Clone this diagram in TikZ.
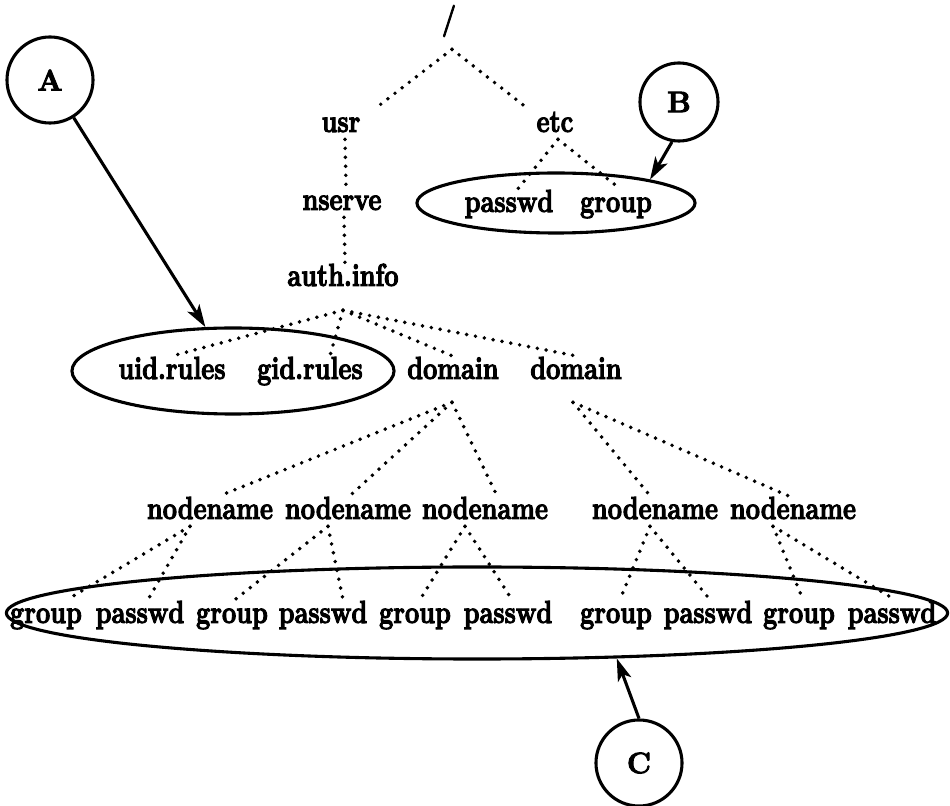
\documentclass[tikz,border=0pt]{standalone}
\usepackage{fontspec}
\usetikzlibrary{shapes.geometric,arrows.meta,calc}
\newfontfamily\treefont{lmroman12-bold}[Extension=.otf,FakeBold=3.5]
\tikzset{fname/.style={font=\treefont\fontsize{18}{20}\selectfont,inner sep=1pt,
        text height=12pt,text depth=3pt,yscale=1.25,transform shape},
    dots/.style={line width=2.8pt,line cap=round,dash pattern=on 0pt off 6.4pt},
    tag/.style={circle,draw,line width=2.2pt,minimum size=2.15cm,
        font=\treefont\fontsize{21}{23}\selectfont},
    grp/.style={ellipse,draw,line width=2.2pt,inner sep=0pt},
    pointer/.style={line width=2.2pt,-{Stealth[length=16pt,width=10pt,inset=4pt]}}}
\begin{document}
\begin{tikzpicture}[x=0.025cm,y=-0.025cm]
      \useasboundingbox (0,0) rectangle (950,806);
      % upper part of the tree
      \node[fname] (root) at (449,21) {/};
      \node[fname] (usr) at (341,124) {usr};
      \node[fname] (etc) at (555,124) {etc};
      \node[fname] (nserve) at (342,202) {nserve};
      \node[fname] (auth) at (343,278) {auth.info};
      \node[fname] (pw0) at (509,204) {passwd};
      \node[fname] (gr0) at (616,204) {group};
      \node[fname] (uid) at (172,371) {uid.rules};
      \node[fname] (gid) at (310,371) {gid.rules};
      \node[fname] (dom1) at (453,371) {domain};
      \node[fname] (dom2) at (576,371) {domain};
      % nodename row and the files below it
      \foreach \n/\x in {1/210,2/348,3/485,4/655,5/793}
        \node[fname] (nn\n) at (\x,511) {nodename};
      \foreach \n/\x in {1/46,2/232,3/415,4/616,5/799}
        \node[fname] (g\n) at (\x,615) {group};
      \foreach \n/\x in {1/140,2/323,3/508,4/708,5/892}
        \node[fname] (p\n) at (\x,615) {passwd};
      \foreach \p/\dx/\dy/\c/\ex in {root/3/13/usr/34,root/3/13/etc/-27,
          usr/4/0/nserve/4,nserve/2/0/auth/2,etc/3/0/pw0/9,etc/3/0/gr0/4,
          auth/0/17/uid/1,auth/0/17/gid/20,auth/0/17/dom1/-1,auth/0/17/dom2/-1,
          dom1/-1/16/nn1/10,dom1/-1/16/nn2/2,dom1/-1/16/nn3/12,
          dom2/-3/16/nn4/-5,dom2/-3/16/nn5/-5,
          nn1/-20/0/g1/21,nn1/-20/0/p1/8,nn2/-20/0/g2/3,nn2/-20/0/p2/20,
          nn3/-20/0/g3/5,nn3/-20/0/p3/4,nn4/-5/0/g4/4,nn4/-5/0/p4/2,
          nn5/-20/0/g5/4,nn5/-20/0/p5/3}
        \draw[dots] ($(\p.south)+(\dx,\dy)$) -- ($(\c.north)+(\ex,0)$);
      % groupings and their tags
      \node[grp,minimum width=8.05cm,minimum height=2.15cm] (uset) at (233,371) {};
      \node[grp,minimum width=6.95cm,minimum height=1.5cm] (bset) at (556,203) {};
      \node[grp,minimum width=23.525cm,minimum height=2.3cm] (cset) at (477,613) {};
      \node[tag] (A) at (50,80) {A};
      \node[tag,minimum size=1.95cm] (B) at (679,102) {B};
      \node[tag] (C) at (639,763) {C};
      \draw[pointer] (A) -- (uset);
      \draw[pointer] (B.-100) -- (bset.14);
      \draw[pointer] (C.north) -- (cset.-18);
\end{tikzpicture}
\end{document}
